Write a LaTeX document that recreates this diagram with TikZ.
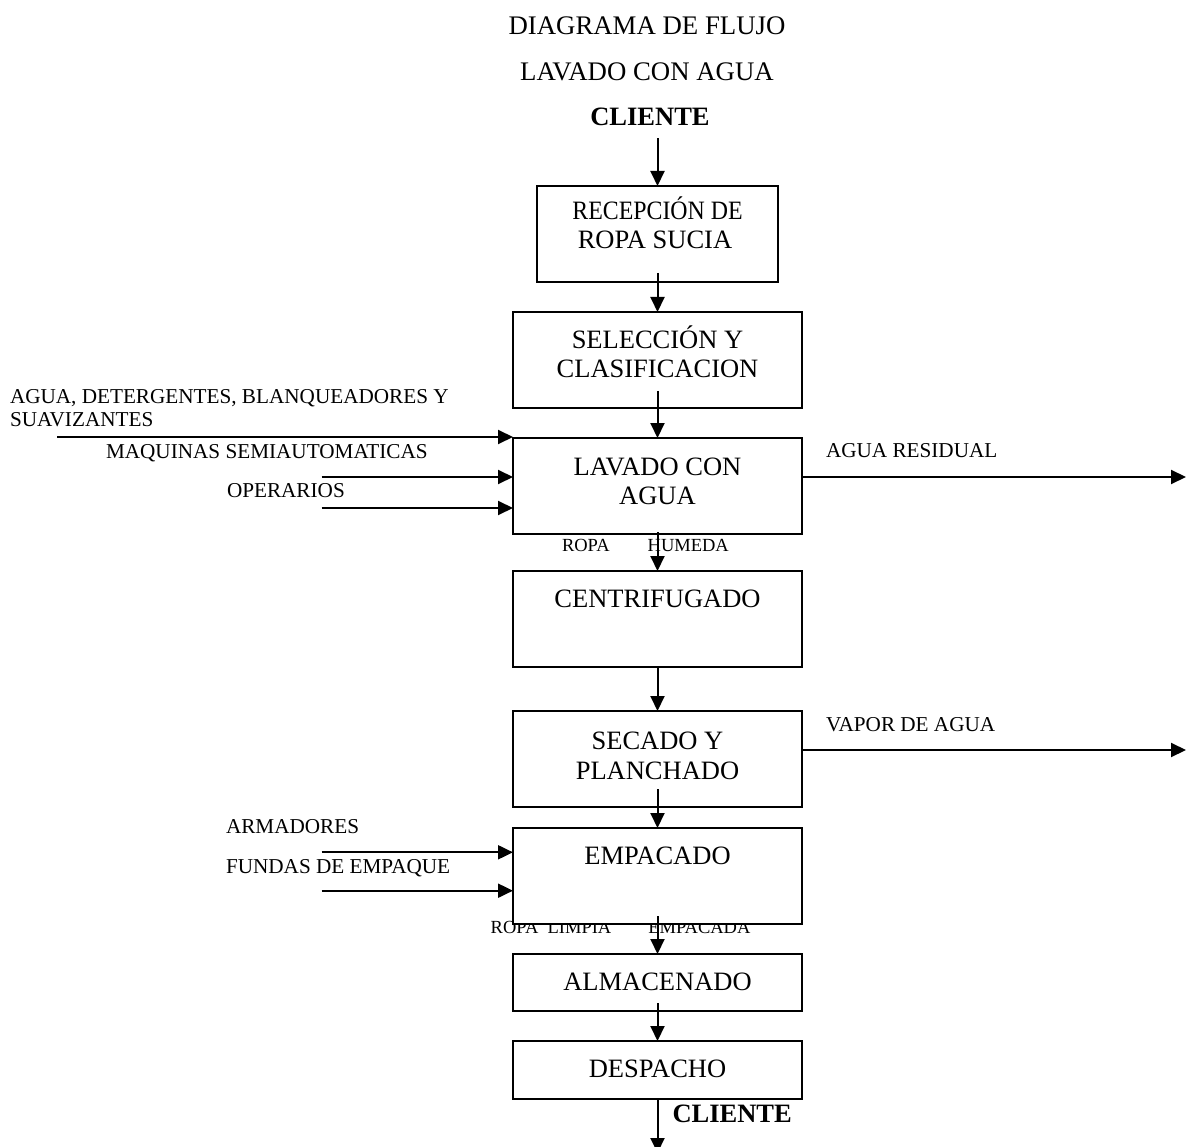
\documentclass[tikz,border=0pt]{standalone}
\usepackage{fontspec}
\usepackage{graphicx}
\setmainfont{Liberation Serif}
\usetikzlibrary{arrows.meta,calc}

\begin{document}
\begin{tikzpicture}[x=1pt,y=-1pt,
  every node/.style={inner sep=0pt, outer sep=0pt},
  stepbox/.style={draw, line width=2.2pt, fill=white, minimum width=289pt, minimum height=96pt},
  boxline/.style={font=\fontsize{26.5}{29}\selectfont, anchor=base},
  titleline/.style={font=\fontsize{26.8}{29}\selectfont, anchor=base},
  endpoint/.style={font=\bfseries\fontsize{26.5}{29}\selectfont},
  sidelabel/.style={font=\fontsize{21.2}{24}\selectfont, anchor=base west},
  smalllabel/.style={font=\fontsize{18.5}{20}\selectfont, anchor=base west},
  flow/.style={line width=2pt, -{Triangle[length=15pt,width=14pt]}},
]
\useasboundingbox (0,0) rectangle (1186,1147);

% headings
\node[titleline] (title1) at (647,35) {DIAGRAMA DE FLUJO};
\node[titleline] (title2) at (647,81) {LAVADO CON AGUA};
\node[endpoint, anchor=base] (cli1) at (650,126) {CLIENTE};

% flow labels that sit under the boxes
\node[smalllabel] (lblhum) at (562,551) {ROPA\hspace{38pt}HUMEDA};
\node[smalllabel] (lblemp) at (490.7,933) {ROPA\ \ LIMPIA\hspace{37pt}EMPACADA};

% process boxes
\node[stepbox, minimum width=241pt] (b1) at (657.5,234) {};
\node[stepbox] (b2) at (657.5,360) {};
\node[stepbox] (b3) at (657.5,486) {};
\node[stepbox] (b4) at (657.5,619) {};
\node[stepbox] (b5) at (657.5,759) {};
\node[stepbox] (b6) at (657.5,876) {};
\node[stepbox, minimum height=57pt] (b7) at (657.5,982.5) {};
\node[stepbox, minimum height=58pt] (b8) at (657.5,1070) {};

% box texts
\node[boxline] (t1a) at (657.5,220) {\scalebox{0.9}[1]{RECEPCIÓN DE}};
\node[boxline] (t1b) at (655,249) {ROPA SUCIA};
\node[boxline] (t2a) at (657.5,349) {SELECCIÓN Y};
\node[boxline] (t2b) at (657.5,378) {CLASIFICACION};
\node[boxline] (t3a) at (657.5,475) {LAVADO CON};
\node[boxline] (t3b) at (657.5,504) {AGUA};
\node[boxline] (t4a) at (657.5,607) {CENTRIFUGADO};
\node[boxline] (t5a) at (657.5,749) {SECADO Y};
\node[boxline] (t5b) at (657.5,779) {PLANCHADO};
\node[boxline] (t6a) at (657.5,864) {EMPACADO};
\node[boxline] (t7a) at (657.5,990) {ALMACENADO};
\node[boxline] (t8a) at (657.5,1077) {DESPACHO};

% inputs and outputs
\node[sidelabel] (in1a) at (10,403) {AGUA, DETERGENTES, BLANQUEADORES Y};
\node[sidelabel] (in1b) at (10,427) {SUAVIZANTES};
\node[sidelabel] (in2l) at (106,458) {MAQUINAS SEMIAUTOMATICAS};
\node[sidelabel] (in3l) at (227,497) {OPERARIOS};
\node[sidelabel] (out1l) at (826,457) {AGUA RESIDUAL};
\node[sidelabel] (out2l) at (826,731) {VAPOR DE AGUA};
\node[sidelabel] (in4l) at (226,833) {ARMADORES};
\node[sidelabel] (in5l) at (226,873) {FUNDAS DE EMPAQUE};
\node[endpoint, anchor=base west] (cli2) at (672.5,1122) {CLIENTE};

\coordinate (in1) at (57,437);
\coordinate (in2) at (321.7,477);
\coordinate (in3) at (321.7,508);
\coordinate (in4) at (321.7,852.3);
\coordinate (in5) at (321.7,890.7);
\coordinate (out1) at (1186,477);
\coordinate (out2) at (1186,750);
\coordinate (endc) at (657.5,1153);

% main flow
\draw[flow] ($(cli1.south -| b1.north)+(0,12)$) -- (b1.north);
\draw[flow] ([yshift=9pt]b1.south) -- (b2.north);
\draw[flow] ([yshift=17pt]b2.south) -- (b3.north);
\draw[flow] ([yshift=2pt]b3.south) -- (b4.north);
\draw[flow] (b4.south) -- (b5.north);
\draw[flow] ([yshift=18pt]b5.south) -- (b6.north);
\draw[flow] ([yshift=8pt]b6.south) -- (b7.north);
\draw[flow] ([yshift=8pt]b7.south) -- (b8.north);
\draw[flow] (b8.south) -- (endc);

% side arrows
\draw[flow] (in1) -- (b3.west |- in1);
\draw[flow] (in2) -- (b3.west |- in2);
\draw[flow] (in3) -- (b3.west |- in3);
\draw[flow] (b3.east |- out1) -- (out1);
\draw[flow] (b5.east |- out2) -- (out2);
\draw[flow] (in4) -- (b6.west |- in4);
\draw[flow] (in5) -- (b6.west |- in5);
\end{tikzpicture}
\end{document}
